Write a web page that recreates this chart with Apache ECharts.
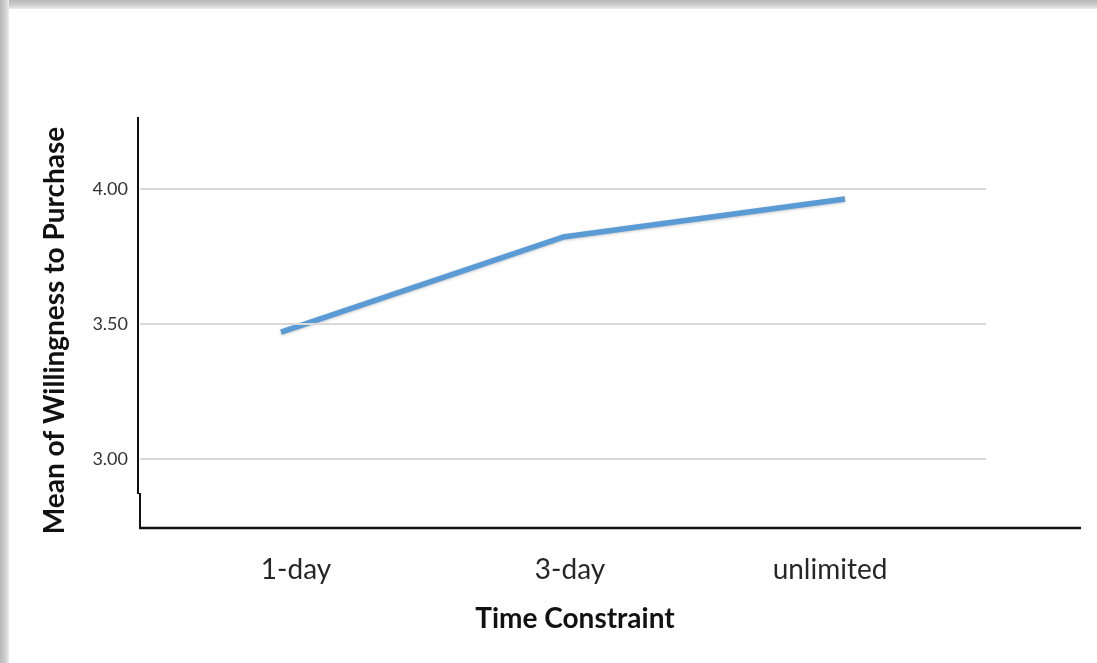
<!DOCTYPE html>
<html>
<head>
<meta charset="utf-8">
<script src="https://cdn.jsdelivr.net/npm/echarts@6/dist/echarts.min.js"></script>
<style>
html,body{margin:0;padding:0;background:#fff;}
#c{width:1097px;height:663px;}
</style>
</head>
<body>
<div id="c"></div>
<script>
var categories = ['1-day', '3-day', 'unlimited'];
var meanWTP = [3.47, 3.822, 3.963];
var yTicks = [3.00, 3.50, 4.00];
var labelShift = [30, 14, -30];

var chart = echarts.init(document.getElementById('c'), null, {renderer: 'canvas'});
var rich = {};
categories.forEach(function (c, i) {
  rich['l' + i] = {
    fontFamily: 'Lato', fontSize: 28, color: '#262626',
    padding: labelShift[i] > 0 ? [0, 0, 0, labelShift[i]] : [0, -labelShift[i], 0, 0]
  };
});
chart.setOption({
  animation: false,
  backgroundColor: '#fff',
  grid: {left: 140, top: 117, width: 846, height: 411, containLabel: false},
  xAxis: {
    type: 'category', data: categories, boundaryGap: true,
    axisLine: {show: false}, axisTick: {show: false}, splitLine: {show: false},
    axisLabel: {
      margin: 28,
      formatter: function (v, i) { return '{l' + i + '|' + v + '}'; },
      rich: rich
    },
    name: 'Time Constraint', nameLocation: 'middle', nameGap: 77,
    nameTextStyle: {fontFamily: 'Lato', fontWeight: 'bold', fontSize: 28, color: '#111', padding: [0, 0, 0, 24]}
  },
  yAxis: {
    type: 'value', min: 2.744444, max: 4.266667,
    axisLine: {show: false}, axisTick: {show: false}, splitLine: {show: false},
    axisLabel: {
      customValues: yTicks, margin: 12,
      fontFamily: 'Lato', fontSize: 18, color: '#333',
      formatter: function (v) { return v.toFixed(2); }
    },
    name: 'Mean of Willingness to Purchase', nameLocation: 'middle', nameGap: 71,
    nameTextStyle: {fontFamily: 'Lato', fontWeight: 'bold', fontSize: 28, color: '#111', padding: [0, 16, 0, 0]}
  },
  series: [{
    type: 'line', data: meanWTP, showSymbol: false, symbol: 'none',
    lineStyle: {color: '#5b9bd5', width: 5.5, shadowColor: 'rgba(0,0,0,0.22)', shadowBlur: 3, shadowOffsetY: 1},
    markLine: {
      silent: true, symbol: 'none', label: {show: false},
      lineStyle: {color: '#d9d9d9', width: 2, type: 'solid'},
      data: yTicks.map(function (t) { return {yAxis: t}; })
    },
    z: 3
  }],
  graphic: [
    {type: 'rect', shape: {x: 0, y: 0, width: 1097, height: 9}, silent: true,
     style: {fill: new echarts.graphic.LinearGradient(0, 0, 0, 1, [{offset: 0, color: '#b8b8b8'}, {offset: 0.6, color: '#cfcfcf'}, {offset: 1, color: '#ededed'}])}},
    {type: 'rect', shape: {x: 0, y: 0, width: 9, height: 663}, silent: true,
     style: {fill: new echarts.graphic.LinearGradient(0, 0, 1, 0, [{offset: 0, color: '#b8b8b8'}, {offset: 0.6, color: '#cfcfcf'}, {offset: 1, color: '#ededed'}])}},
    {type: 'line', shape: {x1: 138, y1: 117, x2: 138, y2: 494}, silent: true, style: {stroke: '#111', lineWidth: 2}},
    {type: 'line', shape: {x1: 140, y1: 493, x2: 140, y2: 529}, silent: true, style: {stroke: '#111', lineWidth: 2}},
    {type: 'line', shape: {x1: 139, y1: 528, x2: 1081, y2: 528}, silent: true, style: {stroke: '#111', lineWidth: 2.5}}
  ]
});
</script>
</body>
</html>
